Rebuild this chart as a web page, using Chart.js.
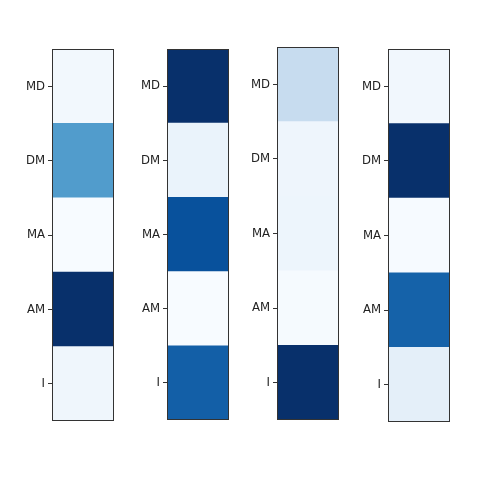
<!DOCTYPE html>
<html>
<head>
<meta charset="utf-8">
<script src="https://cdn.jsdelivr.net/npm/chart.js@4"></script>
<style>
  body { margin: 0; background: #fff; }
  #wrap { position: relative; width: 497px; height: 497px; overflow: hidden; }
  #wrap canvas { position: absolute; }
</style>
</head>
<body>
<div id="wrap">
  <canvas id="c1"></canvas>
  <canvas id="c2"></canvas>
  <canvas id="c3"></canvas>
  <canvas id="c4"></canvas>
</div>
<script>
// rows, top to bottom
const categories = ['MD', 'DM', 'MA', 'AM', 'I'];

// normalised intensity of each cell (0 = lightest, 1 = darkest), per panel
const panel1 = [0.025, 0.58, 0.0, 1.0, 0.04];
const panel2 = [1.0, 0.065, 0.875, 0.0, 0.82];
const panel3 = [0.245, 0.045, 0.05, 0.01, 1.0];
const panel4 = [0.03, 1.0, 0.005, 0.81, 0.095];

// matplotlib "Blues"
const bluesStops = ['#f7fbff', '#deebf7', '#c6dbef', '#9ecae1', '#6baed6',
                    '#4292c6', '#2171b5', '#08519c', '#08306b'];

function hexToRgb(h) {
  return [parseInt(h.slice(1, 3), 16), parseInt(h.slice(3, 5), 16), parseInt(h.slice(5, 7), 16)];
}

function blues(v) {
  v = Math.max(0, Math.min(1, v));
  const pos = v * (bluesStops.length - 1);
  const i = Math.min(Math.floor(pos), bluesStops.length - 2);
  const t = pos - i;
  const a = hexToRgb(bluesStops[i]);
  const b = hexToRgb(bluesStops[i + 1]);
  const c = a.map((x, k) => Math.round(x + (b[k] - x) * t));
  return 'rgb(' + c.join(',') + ')';
}

// draws the box round the plot area
const frame = {
  id: 'frame',
  afterDraw(chart) {
    const { ctx, chartArea: a } = chart;
    ctx.save();
    ctx.strokeStyle = '#333333';
    ctx.lineWidth = 1;
    ctx.strokeRect(Math.round(a.left) + 0.5, Math.round(a.top) + 0.5,
                   Math.round(a.right - a.left) - 1, Math.round(a.bottom - a.top) - 1);
    ctx.restore();
  }
};

const LABEL_W = 40;
const PAD = 5;

function makePanel(id, values, left, top, width, height) {
  const canvas = document.getElementById(id);
  canvas.width = LABEL_W + width + PAD;
  canvas.height = height + 2 * PAD;
  canvas.style.left = (left - LABEL_W) + 'px';
  canvas.style.top = (top - PAD) + 'px';

  return new Chart(canvas, {
    type: 'bar',
    data: {
      labels: categories,
      datasets: [{
        data: categories.map(() => [0, 1]),
        backgroundColor: values.map(blues),
        borderWidth: 0,
        barPercentage: 1,
        categoryPercentage: 1
      }]
    },
    options: {
      indexAxis: 'y',
      responsive: false,
      animation: false,
      devicePixelRatio: 1,
      layout: { padding: { top: PAD, bottom: PAD, right: PAD, left: 0 } },
      plugins: { legend: { display: false }, tooltip: { enabled: false } },
      scales: {
        x: { display: false, min: 0, max: 1 },
        y: {
          afterFit(scale) {
            scale.width = LABEL_W;
            scale.paddingTop = 0;
            scale.paddingBottom = 0;
          },
          border: { display: false },
          grid: {
            offset: false,
            drawOnChartArea: false,
            drawTicks: true,
            tickLength: 4,
            tickColor: '#333333'
          },
          ticks: {
            padding: 3,
            color: '#222222',
            font: { family: '"DejaVu Sans Condensed", "DejaVu Sans", sans-serif', size: 13 }
          }
        }
      }
    },
    plugins: [frame]
  });
}

makePanel('c1', panel1, 52, 49, 62, 372);
makePanel('c2', panel2, 167, 49, 62, 371);
makePanel('c3', panel3, 277, 47, 62, 373);
makePanel('c4', panel4, 388, 49, 62, 373);
</script>
</body>
</html>
